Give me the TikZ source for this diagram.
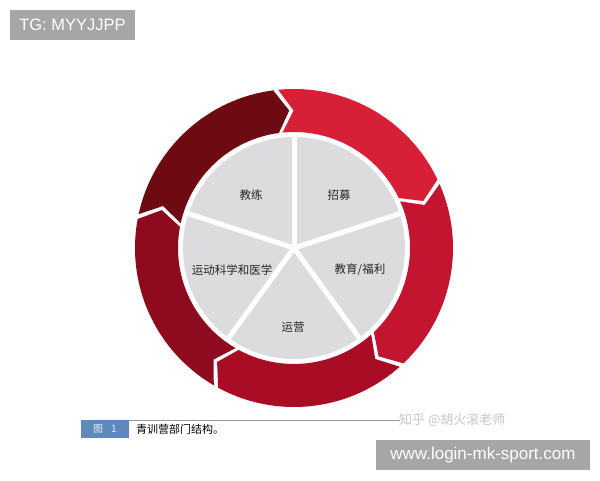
\documentclass[tikz,border=0pt]{standalone}
\usepackage{fontspec}
\setmainfont{Liberation Sans}
\newfontfamily\cjk{Noto Sans CJK SC}
\definecolor{segA}{HTML}{D71F38}
\definecolor{segB}{HTML}{C41530}
\definecolor{segC}{HTML}{A80D25}
\definecolor{segD}{HTML}{8E0A1F}
\definecolor{segE}{HTML}{6E0A12}
\definecolor{piegray}{HTML}{DCDCDF}
\definecolor{tagbg}{HTML}{A6A6A6}
\definecolor{capblue}{HTML}{5D89BF}
\tikzset{
  seglabel/.style={font=\cjk\fontsize{11.5}{13}\selectfont, text=black!85, inner sep=0pt},
  tagbox/.style={fill=tagbg, text=white, inner sep=0pt, font=\fontsize{16.5}{18}\selectfont},
}
\begin{document}
\begin{tikzpicture}[x=1pt,y=1pt]
\useasboundingbox (0,0) rectangle (600,480);
\fill[white] (0,0) rectangle (600,480);
% ring and pie
\begin{scope}[shift={(294,232)}]
  \def\Ro{159}\def\Ri{116}\def\Rm{137.5}\def\dd{5.5}\def\gg{1.8}
  \foreach \t/\c in {97.5/segA,25.5/segB,-46.5/segC,-118.5/segD,169.5/segE}{
    \pgfmathsetmacro{\h}{\t-72}
    \pgfmathsetmacro{\s}{\t-\gg}
    \pgfmathsetmacro{\ht}{\h-\dd}
    \pgfmathsetmacro{\st}{\s-\dd}
    \fill[\c] (\s:\Ro) arc[start angle=\s, end angle=\h, radius=\Ro]
      -- (\ht:\Rm) -- (\h:\Ri) arc[start angle=\h, end angle=\s, radius=\Ri]
      -- (\st:\Rm) -- cycle;
  }
  \fill[piegray] (0,0) circle[radius=111];
  \foreach \a in {90,18,-54,-126,162}{
    \draw[white, line width=5pt] (0,0) -- (\a:114);
  }
  \fill[white] (0,0) circle[radius=3];
\end{scope}
\node[seglabel] (coach) at (251,285) {教练};
\node[seglabel] (recruit) at (339,285) {招募};
\node[seglabel] (edu) at (360,210) {教育/福利};
\node[seglabel] (sci) at (232,210) {运动科学和医学};
\node[seglabel] (ops) at (293,153) {运营};
% caption
\fill[capblue] (81,42) rectangle (129,60);
\node[font=\cjk\fontsize{10}{12}\selectfont, text=white!85!capblue, inner sep=0pt] (fig) at (105,51) {图\hspace{8pt}1};
\draw[gray!80, line width=1pt] (129,60) -- (400,60);
\node[font=\cjk\fontsize{11}{12}\selectfont, anchor=west, inner sep=0pt] (cap) at (136,51) {青训营部门结构。};
\node[font=\cjk\fontsize{13}{14}\selectfont, text=gray!45, anchor=west, inner sep=0pt] (wm) at (399,60) {知乎 @胡火滚老师};
% tag boxes
\fill[tagbg] (10,440) rectangle (135,470);
\node[tagbox, fill=none] (tg) at (72.5,455) {TG: MYYJJPP};
\fill[tagbg] (376,10) rectangle (590,40);
\node[tagbox, fill=none, font=\fontsize{17}{19}\selectfont] (url) at (483,25) {www.login-mk-sport.com};
\end{tikzpicture}
\end{document}
